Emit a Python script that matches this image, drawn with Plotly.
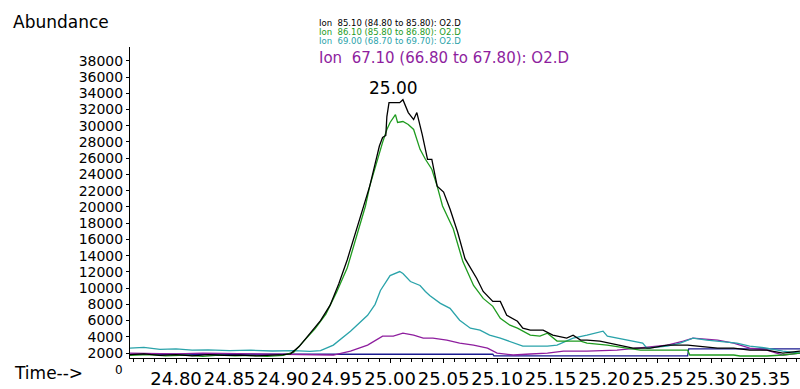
import plotly.graph_objects as go

# ---------------- data ----------------
t_black = [24.757, 24.770, 24.785, 24.800, 24.815, 24.830, 24.845, 24.860, 24.875, 24.890, 24.900, 24.907,
           24.915, 24.925, 24.935, 24.944, 24.952, 24.960, 24.968, 24.975, 24.981, 24.986, 24.990, 24.993,
           24.996, 24.997, 24.999, 25.005, 25.009, 25.012, 25.017, 25.022, 25.025, 25.030, 25.035, 25.039,
           25.044, 25.050, 25.056, 25.063, 25.070, 25.081, 25.087, 25.096, 25.103, 25.109, 25.119, 25.124,
           25.131, 25.143, 25.152, 25.165, 25.171, 25.178, 25.184, 25.196, 25.215, 25.227, 25.243, 25.259,
           25.278, 25.290, 25.306, 25.321, 25.336, 25.352, 25.367, 25.383]
v_black = [1800, 1900, 1700, 1800, 1650, 1800, 1700, 1750, 1650, 1700, 1800, 1900,
           2800, 4400, 6000, 7900, 10500, 13500, 17000, 20115, 22563, 25300, 27500, 28561,
           28806, 31131, 32845, 32845, 32845, 33212, 31621, 30764, 31621, 28928, 25868, 25868,
           22563, 21829, 19748, 16933, 13628, 11180, 9589, 8365, 8365, 6651, 5917, 5060,
           4815, 4815, 4203, 3836, 4203, 3591, 3591, 3469, 2979, 2612, 2612, 2979,
           2979, 2857, 2612, 2612, 2367, 2367, 2000, 2245]

t_green = [24.757, 24.775, 24.790, 24.810, 24.825, 24.840, 24.855, 24.870, 24.885, 24.900, 24.910, 24.920,
           24.930, 24.940, 24.950, 24.960, 24.968, 24.977, 24.981, 24.988, 24.993, 24.997, 25.000, 25.005,
           25.007, 25.012, 25.017, 25.022, 25.025, 25.028, 25.033, 25.039, 25.044, 25.049, 25.059, 25.068,
           25.078, 25.087, 25.096, 25.103, 25.112, 25.119, 25.131, 25.140, 25.147, 25.156, 25.165, 25.178,
           25.184, 25.203, 25.221, 25.234, 25.252, 25.278, 25.280, 25.306, 25.321, 25.327, 25.352, 25.367,
           25.383]
v_green = [1700, 1800, 1650, 1750, 1600, 1750, 1650, 1700, 1600, 1700, 2100, 3500,
           5000, 6800, 9500, 12500, 16000, 20115, 22563, 25868, 27949, 29540, 30397, 31376,
           30397, 30519, 30152, 29540, 28316, 27092, 25868, 24644, 22563, 20115, 17300, 13261,
           10323, 8732, 7753, 6284, 5427, 5060, 4203, 4081, 4448, 3469, 3469, 3469,
           3224, 2979, 2612, 2367, 2367, 2367, 1755, 1755, 1755, 1633, 1633, 1755,
           2000]

t_teal = [24.757, 24.770, 24.785, 24.800, 24.815, 24.830, 24.850, 24.870, 24.890, 24.910, 24.925, 24.935,
          24.947, 24.963, 24.979, 24.986, 24.991, 25.000, 25.009, 25.012, 25.019, 25.028, 25.033, 25.037,
          25.047, 25.056, 25.065, 25.075, 25.084, 25.093, 25.103, 25.115, 25.124, 25.134, 25.147, 25.156,
          25.171, 25.184, 25.199, 25.203, 25.221, 25.236, 25.240, 25.259, 25.271, 25.283, 25.296, 25.308,
          25.324, 25.336, 25.352, 25.367, 25.383]
v_teal = [2600, 2700, 2450, 2500, 2350, 2400, 2300, 2350, 2250, 2300, 2200, 2300,
          2979, 4693, 6651, 8000, 9711, 11547, 12037, 11792, 10813, 10323, 9589, 9099,
          8120, 7508, 6039, 5060, 4815, 4203, 3836, 3224, 2857, 2857, 2857, 2979,
          3836, 4203, 4693, 4081, 3591, 3224, 2612, 2857, 3224, 3836, 3591, 3469,
          3224, 2857, 2612, 2245, 2000]

t_purple = [24.757, 24.780, 24.800, 24.825, 24.850, 24.875, 24.900, 24.930, 24.947, 24.963, 24.979, 24.993,
            25.003, 25.012, 25.022, 25.031, 25.040, 25.053, 25.065, 25.078, 25.091, 25.100, 25.115, 25.131,
            25.147, 25.162, 25.184, 25.212, 25.234, 25.259, 25.274, 25.283, 25.306, 25.321, 25.336, 25.352,
            25.367, 25.383]
v_purple = [2000, 1950, 1900, 2000, 1950, 1900, 1850, 1700, 1755, 2245, 2979, 4081,
            4081, 4448, 4203, 3836, 3836, 3591, 3224, 2979, 2612, 2000, 1755, 1878,
            2000, 2245, 2245, 2367, 2612, 2979, 3469, 3836, 3591, 3224, 2612, 2367,
            1755, 2000]

t_navy = [24.757, 25.096, 25.097, 25.278, 25.279, 25.383]
v_navy = [1850, 1850, 1650, 1650, 2500, 2500]

ion_labels = ["Ion  85.10 (84.80 to 85.80): O2.D",
              "Ion  86.10 (85.80 to 86.80): O2.D",
              "Ion  69.00 (68.70 to 69.70): O2.D",
              "Ion  67.10 (66.80 to 67.80): O2.D"]

y_tick_vals = list(range(2000, 38001, 2000))
y_tick_text = [str(v) for v in y_tick_vals]
x_tick_vals = [24.80, 24.85, 24.90, 24.95, 25.00, 25.05, 25.10, 25.15, 25.20, 25.25, 25.30, 25.35]
x_tick_text = ["%.2f" % v for v in x_tick_vals]
x_minor_vals = [round(24.76 + 0.01 * i, 2) for i in range(63)]

peak_rt = 25.003
peak_label = "25.00"

# ---------------- styling ----------------
BLACK = "#000000"
GREEN = "#1E9B1E"
TEAL = "#2AA3AA"
PURPLE = "#8E1E9E"
NAVY = "#1A1A90"
FONT = "DejaVu Sans"

W, H = 800, 389
ML, MR, MT, MB = 130, 0, 47, 29
PW, PH = W - ML - MR, H - MT - MB


def px(xp):
    return (xp - ML) / PW


def py(yp):
    return (H - MB - yp) / PH


fig = go.Figure()
series = [(t_navy, v_navy, NAVY), (t_purple, v_purple, PURPLE), (t_teal, v_teal, TEAL),
          (t_green, v_green, GREEN), (t_black, v_black, BLACK)]
for tx, vy, col in series:
    fig.add_trace(go.Scatter(x=tx, y=vy, mode="lines", line=dict(color=col, width=1.3),
                             showlegend=False, hoverinfo="skip"))

annotations = []
# stacked ion headers: the three upper ones are squeezed into thin bands
ion_cols = [BLACK, GREEN, TEAL, PURPLE]
ion_mid = [23, 32, 41, 58]
ion_size = [8.5, 8.5, 8.5, 15]
for lab, col, mid, sz in zip(ion_labels, ion_cols, ion_mid, ion_size):
    annotations.append(dict(text=lab, xref="paper", yref="paper", x=px(318), y=py(mid),
                            xanchor="left", yanchor="middle", showarrow=False,
                            borderpad=0, font=dict(family=FONT, size=sz, color=col)))

annotations += [
    dict(text="Abundance", xref="paper", yref="paper", x=px(11), y=py(22), xanchor="left",
         yanchor="middle", showarrow=False, font=dict(family=FONT, size=17, color=BLACK)),
    dict(text="Time-->", xref="paper", yref="paper", x=px(12), y=py(375), xanchor="left",
         yanchor="middle", showarrow=False, font=dict(family=FONT, size=17, color=BLACK)),
    dict(text="0", xref="paper", yref="paper", x=px(124), y=py(372), xanchor="right",
         yanchor="middle", showarrow=False, borderpad=0, font=dict(family=FONT, size=12, color=BLACK)),
    dict(text=peak_label, xref="x", yref="paper", x=peak_rt, y=py(88), xanchor="center",
         yanchor="middle", showarrow=False, font=dict(family=FONT, size=17, color=BLACK)),
]

fig.update_layout(
    width=W, height=H,
    margin=dict(l=ML, r=MR, t=MT, b=MB, pad=0),
    paper_bgcolor="white", plot_bgcolor="white",
    annotations=annotations,
    xaxis=dict(range=[24.757, 25.383], showgrid=False, zeroline=False, showline=True,
               linecolor=BLACK, linewidth=1, ticks="outside", ticklen=4, tickcolor=BLACK,
               tickmode="array", tickvals=x_tick_vals, ticktext=x_tick_text, tickangle=0,
               tickfont=dict(family=FONT, size=18, color=BLACK),
               minor=dict(tickmode="array", tickvals=x_minor_vals, ticks="outside", ticklen=3,
                          tickcolor=BLACK)),
    yaxis=dict(range=[1388, 39699], showgrid=False, zeroline=False, showline=True,
               linecolor=BLACK, linewidth=1, ticks="outside", ticklen=3, tickcolor=BLACK,
               tickmode="array", tickvals=y_tick_vals, ticktext=y_tick_text,
               tickfont=dict(family=FONT, size=14, color=BLACK)),
)

fig.write_html("out.html")
